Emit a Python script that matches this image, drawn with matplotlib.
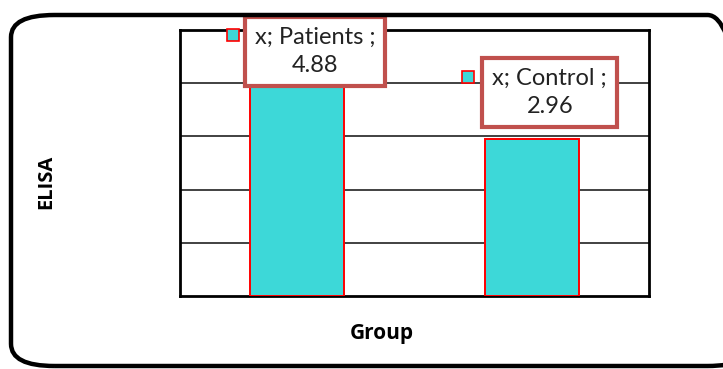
import matplotlib.pyplot as plt
from matplotlib.patches import FancyBboxPatch
from matplotlib.transforms import offset_copy

groups = ['Patients', 'Control']
elisa = [4.88, 2.96]
label_dx = [18, 18]      # pixel offsets of the data labels
label_dy = [-15, 46]

fig = plt.figure(figsize=(7.23, 3.69), dpi=100)
ax = fig.add_axes([180/723, 1-296/369, 469/723, 266/369])

# outer rounded frame
frame = FancyBboxPatch((11/723, 3/369), 740/723, 351/369,
                       boxstyle='round,pad=0,rounding_size=0.06',
                       transform=fig.transFigure, fill=False,
                       edgecolor='black', linewidth=3.2, clip_on=False)
fig.patches.append(frame)

x = list(range(len(groups)))
ax.bar(x, elisa, width=0.4, color='#3DD8D8', edgecolor='#FF0000', linewidth=1.4, zorder=3)

ax.set_xlim(-0.5, 1.5)
ax.set_ylim(0, 5)
ax.set_yticks([1, 2, 3, 4, 5])
ax.yaxis.grid(True, color='#333333', linewidth=1.3)
ax.set_axisbelow(True)
ax.tick_params(left=False, bottom=False, labelleft=False, labelbottom=False)
for s in ax.spines.values():
    s.set_linewidth(2)
    s.set_color('black')

fig.text(46/723, 1-182/369, 'ELISA', rotation=90, ha='center', va='center',
         fontsize=14.5, fontweight='bold', family='Open Sans')
fig.text(382/723, 1-334/369, 'Group', ha='center', va='center',
         fontsize=15, fontweight='bold', family='Open Sans')

for i, (g, v) in enumerate(zip(groups, elisa)):
    ax.annotate(f'x; {g} ;\n{v:.2f}', xy=(i, v), xytext=(label_dx[i], label_dy[i]),
                textcoords='offset pixels', ha='center', va='center',
                fontsize=17, family='Lato', color='#222222', linespacing=1.45,
                annotation_clip=False, zorder=6,
                bbox=dict(boxstyle='square,pad=0.42', facecolor='white',
                          edgecolor='#C0504D', linewidth=3))
    tr = offset_copy(ax.transData, fig=fig, x=label_dx[i] - 82, y=label_dy[i] + 16, units='dots')
    ax.plot([i], [v], transform=tr, marker='s', markersize=8, markerfacecolor='#3DD8D8',
            markeredgecolor='red', markeredgewidth=1.2, clip_on=False, zorder=7)

fig.savefig('out.png', dpi=100)
